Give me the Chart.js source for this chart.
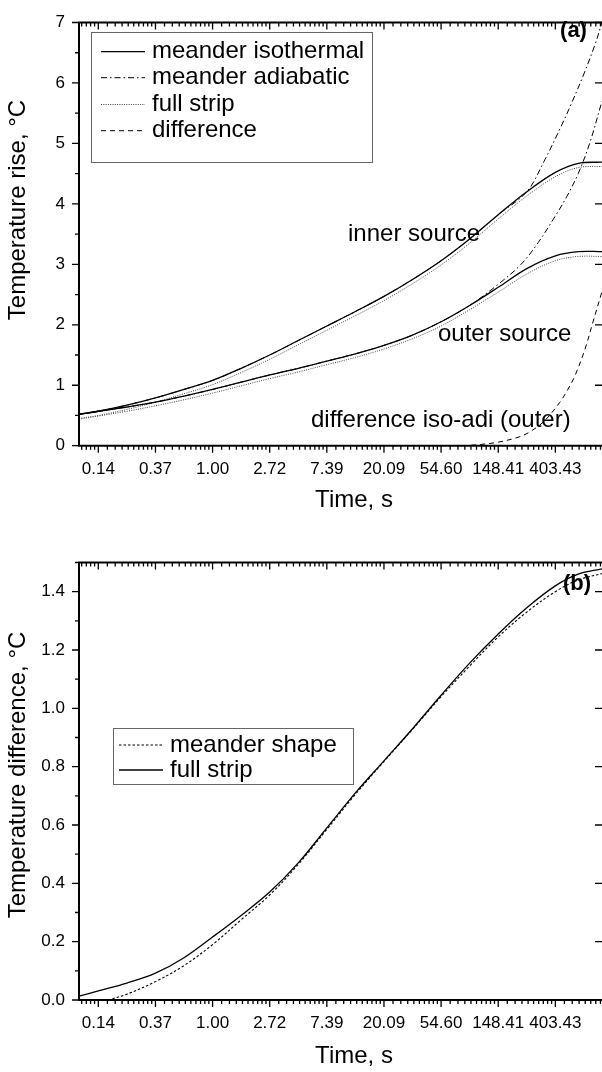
<!DOCTYPE html>
<html><head><meta charset="utf-8">
<script src="https://cdn.jsdelivr.net/npm/chart.js@4.4.1/dist/chart.umd.min.js"></script>
<style>
html,body{margin:0;padding:0;background:#fff;width:602px;height:1072px;overflow:hidden;}
canvas{position:absolute;left:0;display:block;}
#ca{top:0;} #cb{top:540px;}
</style></head><body>
<canvas id="ca" width="602" height="540"></canvas>
<canvas id="cb" width="602" height="532"></canvas>
<script>
const FONT = "'Liberation Sans', Arial, Helvetica, sans-serif";

// ---- axis ticks ----
const tickExponents = [-2,-1,0,1,2,3,4,5,6];
const xMajorTicks = [0.1353,0.3679,1,2.7183,7.389,20.086,54.598,148.41,403.43];
const xTickLabels = ['0.14','0.37','1.00','2.72','7.39','20.09','54.60','148.41','403.43'];
const timeRange = [0.0965, 913];
const yTicksA = [0,1,2,3,4,5,6,7];
const yLabelsA = ['0','1','2','3','4','5','6','7'];
const yMinorA = [0.5,1.5,2.5,3.5,4.5,5.5,6.5];
const yTicksB = [0,0.2,0.4,0.6,0.8,1.0,1.2,1.4];
const yLabelsB = ['0.0','0.2','0.4','0.6','0.8','1.0','1.2','1.4'];
const yMinorB = [0.1,0.3,0.5,0.7,0.9,1.1,1.3,1.5];

// ---- panel (a) data ----
const timeA = [0.0965,0.1353,0.2231,0.3679,0.6065,1,1.6487,2.7183,4.4817,7.389,12.182,20.086,33.115,54.598,90.017,148.41,244.69,403.43,601.85,913];
const innerIso  = [0.52,0.57,0.67,0.79,0.93,1.08,1.28,1.50,1.74,1.98,2.22,2.47,2.75,3.06,3.42,3.82,4.20,4.52,4.67,4.69];
const outerIso  = [0.52,0.57,0.64,0.72,0.82,0.93,1.05,1.17,1.28,1.40,1.52,1.66,1.83,2.05,2.32,2.62,2.93,3.14,3.21,3.21];
const innerFull = [0.45,0.50,0.60,0.72,0.86,1.01,1.21,1.43,1.67,1.91,2.15,2.40,2.68,2.99,3.35,3.75,4.13,4.45,4.60,4.62];
const outerFull = [0.44,0.49,0.57,0.66,0.76,0.87,0.99,1.11,1.22,1.34,1.46,1.60,1.77,1.98,2.25,2.54,2.84,3.06,3.13,3.13];
const timeInnerAdi = [0.0965,0.1353,0.2231,0.3679,0.6065,1,1.6487,2.7183,4.4817,7.389,12.182,20.086,33.115,54.598,90.017,148.41,244.69,330.3,445.9,544.6,665.1,812.4,913];
const innerAdi     = [0.52,0.57,0.67,0.79,0.93,1.08,1.28,1.50,1.74,1.98,2.22,2.47,2.75,3.06,3.42,3.82,4.20,4.70,5.28,5.70,6.15,6.65,7.00];
const timeOuterAdi = [0.0965,0.1353,0.2231,0.3679,0.6065,1,1.6487,2.7183,4.4817,7.389,12.182,20.086,33.115,54.598,90.017,148.41,221.4,298.9,403.43,492.7,601.85,735.1,913];
const outerAdi     = [0.52,0.57,0.64,0.72,0.82,0.93,1.05,1.17,1.28,1.40,1.52,1.66,1.83,2.05,2.32,2.67,3.00,3.36,3.80,4.12,4.50,5.00,5.70];
const timeDiff   = [79.0,107.8,149.9,217.0,267.7,337.0,437.0,492.7,566.8,678.6,780.5,913];
const diffIsoAdi = [0,0.02,0.06,0.15,0.25,0.42,0.72,0.90,1.15,1.60,2.05,2.55];

// ---- panel (b) data ----
const timeB = [0.0965,0.1353,0.2231,0.3679,0.6065,1,1.6487,2.7183,4.4817,7.389,12.182,20.086,33.115,54.598,90.017,148.41,244.69,403.43,601.85,913];
const stripB = [0.013,0.031,0.058,0.092,0.145,0.216,0.29,0.37,0.47,0.59,0.71,0.82,0.93,1.045,1.155,1.255,1.345,1.42,1.46,1.478];
const timeMeanderB = [0.1604,0.2231,0.3679,0.6065,1,1.6487,2.7183,4.4817,7.389,12.182,20.086,33.115,54.598,90.017,148.41,244.69,403.43,601.85,913];
const meanderB = [0,0.02,0.063,0.118,0.19,0.275,0.36,0.465,0.585,0.705,0.818,0.928,1.04,1.145,1.245,1.33,1.40,1.44,1.462];

// ---- texts ----
const legendA = ['meander isothermal','meander adiabatic','full strip','difference'];
const legendB = ['meander shape','full strip'];
const xTitle = 'Time, s';
const yTitleA = 'Temperature rise, \u00B0C';
const yTitleB = 'Temperature difference, \u00B0C';

const pts = (t, v) => t.map((x, i) => ({x, y: v[i]}));
const SOLID = {borderWidth:1.3, borderDash:[], borderColor:'#000'};
const DASHDOT = {borderWidth:1, borderDash:[6,3,1.5,3], borderColor:'#000'};
const DOTTED = {borderWidth:1, borderDash:[1,1.3], borderColor:'#444'};
const DASHED = {borderWidth:1, borderDash:[5,4], borderColor:'#000'};
const SHORTDASH = {borderWidth:1.1, borderDash:[2.5,2], borderColor:'#000'};
function ds(label, t, v, style) {
  return Object.assign({label, data: pts(t, v), pointRadius:0, fill:false, tension:0.35}, style);
}

const framePlugin = {
  id: 'frame',
  afterDatasetsDraw(chart, args, o) {
    const {ctx, chartArea: a} = chart;
    const x = chart.scales.x, y = chart.scales.y;
    ctx.save();
    ctx.strokeStyle = '#000';
    ctx.lineWidth = 2;
    ctx.beginPath();
    ctx.moveTo(a.left - 1, a.top); ctx.lineTo(a.right + 2, a.top);
    ctx.moveTo(a.left, a.top - 1); ctx.lineTo(a.left, a.bottom + 1);
    ctx.moveTo(a.left - 1, a.bottom); ctx.lineTo(a.right + 2, a.bottom);
    ctx.stroke();
    ctx.lineWidth = 1.3;
    ctx.beginPath();
    const inRange = v => v >= x.min && v <= x.max;
    xMajorTicks.forEach(v => {
      const p = x.getPixelForValue(v);
      ctx.moveTo(p, a.bottom); ctx.lineTo(p, a.bottom + 7);
      ctx.moveTo(p, a.top); ctx.lineTo(p, a.top + 7);
    });
    for (let k = tickExponents[0] - 1; k <= tickExponents[tickExponents.length - 1]; k++) {
      const b = Math.exp(k), n = Math.exp(k + 1);
      for (let j = 1; j < 10; j++) {
        const v = b + j * (n - b) / 10;
        if (!inRange(v)) continue;
        const p = x.getPixelForValue(v);
        ctx.moveTo(p, a.bottom); ctx.lineTo(p, a.bottom + 4);
        ctx.moveTo(p, a.top); ctx.lineTo(p, a.top + 4);
      }
    }
    o.yMajor.forEach(v => {
      const p = y.getPixelForValue(v);
      ctx.moveTo(a.left, p); ctx.lineTo(a.left - 7, p);
      ctx.moveTo(a.right, p); ctx.lineTo(a.right - 7, p);
    });
    o.yMinor.forEach(v => {
      const p = y.getPixelForValue(v);
      ctx.moveTo(a.left, p); ctx.lineTo(a.left - 4, p);
    });
    ctx.stroke();
    ctx.restore();
  },
  afterDraw(chart, args, o) {
    const ctx = chart.ctx;
    ctx.save();
    const L = o.legend;
    ctx.lineWidth = 1; ctx.strokeStyle = '#666'; ctx.setLineDash([]);
    ctx.strokeRect(L.x + 0.5, L.y + 0.5, L.w, L.h);
    L.items.forEach((idx, i) => {
      const d = chart.data.datasets[idx];
      const yy = L.rows[i];
      ctx.setLineDash(d.borderDash); ctx.strokeStyle = d.borderColor; ctx.lineWidth = d.borderWidth;
      ctx.beginPath(); ctx.moveTo(L.s0, yy); ctx.lineTo(L.s1, yy); ctx.stroke();
      ctx.setLineDash([]);
      ctx.fillStyle = '#000'; ctx.font = '24px ' + FONT;
      ctx.textAlign = 'left'; ctx.textBaseline = 'middle';
      ctx.fillText(L.labels[i], L.tx, yy);
    });
    o.texts.forEach(t => {
      ctx.font = t.font; ctx.fillStyle = '#000';
      ctx.textAlign = t.align || 'left'; ctx.textBaseline = 'middle';
      if (t.rot) { ctx.save(); ctx.translate(t.x, t.y); ctx.rotate(t.rot); ctx.fillText(t.text, 0, 0); ctx.restore(); }
      else ctx.fillText(t.text, t.x, t.y);
    });
    ctx.restore();
  }
};

function makeOptions(yMin, yMax, yTicks, yLabels, xHeight, frameOpts) {
  return {
    responsive: false, animation: false, devicePixelRatio: 1,
    layout: {padding: {left: 0, top: 9, right: 0, bottom: 0}},
    plugins: {legend: {display: false}, tooltip: {enabled: false}, frame: frameOpts},
    scales: {
      x: {
        type: 'logarithmic', min: timeRange[0], max: timeRange[1],
        grid: {display: false, drawTicks: false}, border: {display: false},
        afterBuildTicks: s => { s.ticks = xMajorTicks.map(v => ({value: v})); },
        afterFit: s => { s.height = xHeight; },
        ticks: {autoSkip: false, maxRotation: 0, padding: 13, color: '#000',
          font: {family: FONT, size: 17},
          callback: (v, i) => xTickLabels[i]}
      },
      y: {
        type: 'linear', min: yMin, max: yMax,
        grid: {display: false, drawTicks: false}, border: {display: false},
        afterBuildTicks: s => { s.ticks = yTicks.map(v => ({value: v})); },
        afterFit: s => { s.width = 79; },
        ticks: {padding: 14, color: '#000', font: {family: FONT, size: 17, lineHeight: 1},
          callback: (v, i) => yLabels[i]}
      }
    }
  };
}

new Chart(document.getElementById('ca'), {
  type: 'line',
  plugins: [framePlugin],
  data: {datasets: [
    ds(legendA[0], timeA, innerIso, SOLID),
    ds(legendA[0], timeA, outerIso, SOLID),
    ds(legendA[1], timeInnerAdi, innerAdi, DASHDOT),
    ds(legendA[1], timeOuterAdi, outerAdi, DASHDOT),
    ds(legendA[2], timeA, innerFull, DOTTED),
    ds(legendA[2], timeA, outerFull, DOTTED),
    ds(legendA[3], timeDiff, diffIsoAdi, DASHED)
  ]},
  options: makeOptions(0, 7, yTicksA, yLabelsA, 94.3, {
    yMajor: yTicksA, yMinor: yMinorA,
    legend: {x: 91, y: 32, w: 281, h: 130, rows: [51.7, 77.7, 104.5, 130.7], s0: 101, s1: 145, tx: 152,
      items: [0, 2, 4, 6], labels: legendA},
    texts: [
      {text: '(a)', x: 573.5, y: 31, align: 'center', font: 'bold 22px ' + FONT},
      {text: 'inner source', x: 348, y: 234, font: '24px ' + FONT},
      {text: 'outer source', x: 438, y: 334, font: '24px ' + FONT},
      {text: 'difference iso-adi (outer)', x: 311, y: 420, font: '24px ' + FONT},
      {text: xTitle, x: 354, y: 500, align: 'center', font: '24px ' + FONT},
      {text: yTitleA, x: 18.5, y: 210, align: 'center', rot: -Math.PI / 2, font: '24px ' + FONT}
    ]
  })
});

new Chart(document.getElementById('cb'), {
  type: 'line',
  plugins: [framePlugin],
  data: {datasets: [
    ds(legendB[1], timeB, stripB, SOLID),
    ds(legendB[0], timeMeanderB, meanderB, SHORTDASH)
  ]},
  options: makeOptions(0, 1.5, yTicksB, yLabelsB, 72, {
    yMajor: yTicksB, yMinor: yMinorB,
    legend: {x: 113, y: 188, w: 240, h: 56, rows: [205, 230], s0: 119, s1: 163, tx: 170,
      items: [1, 0], labels: legendB},
    texts: [
      {text: '(b)', x: 577, y: 44, align: 'center', font: 'bold 22px ' + FONT},
      {text: xTitle, x: 354, y: 516, align: 'center', font: '24px ' + FONT},
      {text: yTitleB, x: 18.5, y: 235, align: 'center', rot: -Math.PI / 2, font: '24px ' + FONT}
    ]
  })
});
</script>
</body></html>
